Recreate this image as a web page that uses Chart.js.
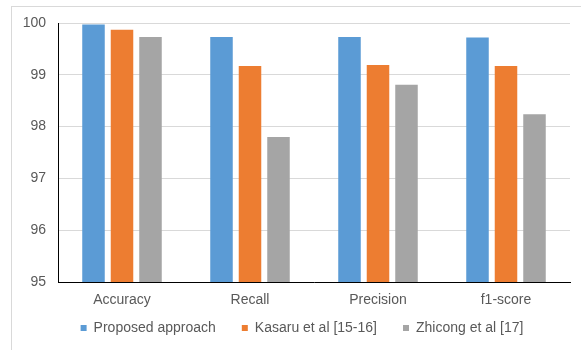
<!DOCTYPE html>
<html>
<head>
<meta charset="utf-8">
<script src="https://cdn.jsdelivr.net/npm/chart.js@4"></script>
<style>
  html, body { margin: 0; padding: 0; background: #fff; overflow: hidden; }
  #wrap { position: relative; width: 581px; height: 350px; }
  #frame { position: absolute; left: 11px; top: 6px; width: 600px; height: 400px;
           border-left: 1px solid #d9d9d9; border-top: 1px solid #d9d9d9; pointer-events: none; }
  canvas { position: absolute; left: 0; top: 0; }
</style>
</head>
<body>
<div id="wrap">
  <div id="frame"></div>
  <canvas id="chart" width="581" height="350"></canvas>
</div>
<script>
// Metric names along the x axis
const categories = ['Accuracy', 'Recall', 'Precision', 'f1-score'];

// Scores (%) per method
const proposedApproach = [99.97, 99.73, 99.73, 99.72];
const kasaruEtAl = [99.87, 99.17, 99.19, 99.17];
const zhicongEtAl = [99.73, 97.80, 98.81, 98.24];

const seriesNames = ['Proposed approach', 'Kasaru et al [15-16]', 'Zhicong et al [17]'];
const seriesColors = ['#5b9bd5', '#ed7d31', '#a5a5a5'];

// Y axis range and step
const yMin = 95;
const yMax = 100;
const yStep = 1;

const FONT = "'Liberation Sans', Arial, sans-serif";
const TEXT = '#595959';

// Nudges the bottom legend into place after layout
const legendShift = {
  id: 'legendShift',
  afterLayout(chart, args, opts) {
    const lg = chart.legend;
    if (lg) {
      lg.left += opts.dx;
      lg.right += opts.dx;
      lg.top += opts.dy;
      lg.bottom += opts.dy;
    }
  }
};

new Chart(document.getElementById('chart'), {
  type: 'bar',
  data: {
    labels: categories,
    datasets: [proposedApproach, kasaruEtAl, zhicongEtAl].map((d, i) => ({
      label: seriesNames[i],
      data: d,
      backgroundColor: seriesColors[i],
      borderWidth: 0,
      categoryPercentage: 0.668,
      barPercentage: 0.79
    }))
  },
  options: {
    responsive: false,
    animation: false,
    devicePixelRatio: 1,
    layout: { padding: { left: 0, right: 11, top: 23, bottom: -9 } },
    plugins: {
      legend: {
        position: 'bottom',
        labels: {
          boxWidth: 6,
          boxHeight: 6,
          padding: 26,
          color: TEXT,
          font: { family: FONT, size: 14 }
        }
      },
      legendShift: { dx: 17, dy: -14 },
      tooltip: { enabled: false }
    },
    scales: {
      x: {
        afterFit(scale) { scale.height = 27; },
        grid: { display: false, drawTicks: false },
        border: { color: '#000', width: 1 },
        ticks: { color: TEXT, padding: 10, maxRotation: 0, font: { family: FONT, size: 14 } }
      },
      y: {
        min: yMin,
        max: yMax,
        afterFit(scale) { scale.width = 58; },
        grid: { color: '#d9d9d9', lineWidth: 1, drawTicks: false },
        border: { color: '#000', width: 1 },
        ticks: {
          stepSize: yStep,
          padding: 12,
          color: TEXT,
          font: { family: FONT, size: 14 }
        }
      }
    }
  },
  plugins: [legendShift]
});
</script>
</body>
</html>
